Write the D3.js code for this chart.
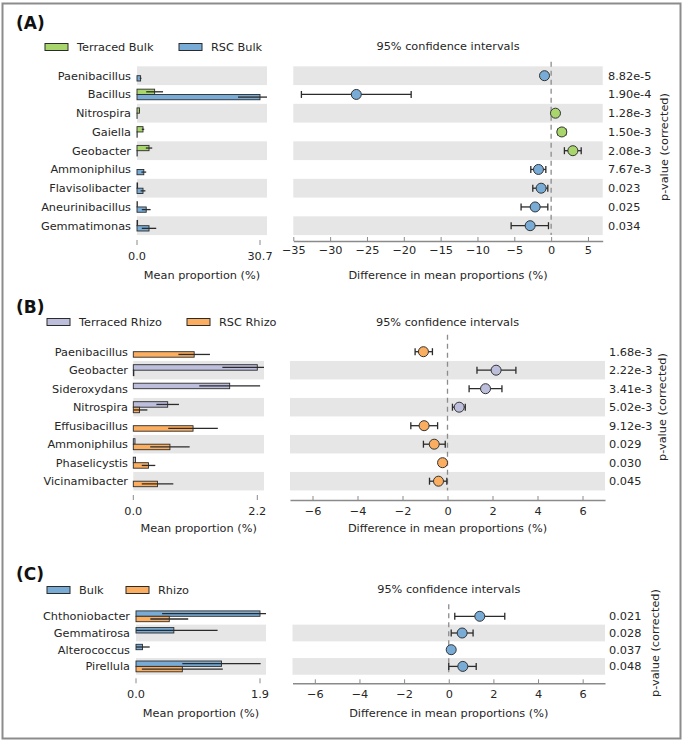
<!DOCTYPE html>
<html>
<head>
<meta charset="utf-8">
<script src="https://cdn.jsdelivr.net/npm/d3@7/dist/d3.min.js"></script>
<style>
body { margin: 0; background: #fff; }
text { font-family: "DejaVu Sans", sans-serif; fill: #262626; }
</style>
</head>
<body>
<div class="chartContainer"></div>
<script>
//Colors
var greenFill = "#a8d66c";
var blueFill = "#78acd6";
var orangeFill = "#fbad60";
var purpleFill = "#bdbedc";
var bandFill = "#e6e6e6";
var darkStroke = "#2b2b2b";
var axisGrey = "#8a8a8a";

// Panel A : Terraced Bulk vs RSC Bulk
var taxaA = ["Paenibacillus", "Bacillus", "Nitrospira", "Gaiella", "Geobacter", "Ammoniphilus", "Flavisolibacter", "Aneurinibacillus", "Gemmatimonas"];
var groupsA = ["Terraced Bulk", "RSC Bulk"];
var meanA1 = [0.0, 4.4, 0.6, 1.5, 3.0, 0.0, 0.15, 0.1, 0.15];
var sdA1 = [0, 2.1, 0.1, 0.3, 0.8, 0, 0, 0, 0];
var meanA2 = [0.9, 30.7, 0.02, 0.05, 0.05, 1.7, 1.5, 2.3, 3.0];
var sdA2 = [0.2, 5.5, 0, 0, 0, 0.6, 0.6, 1.1, 1.8];
var diffA = [-0.9, -26.45, 0.59, 1.45, 2.95, -1.72, -1.36, -2.17, -2.85];
var loA = [-1.3, -33.9, 0.3, 0.9, 1.8, -2.76, -2.49, -4.08, -5.43];
var hiA = [-0.5, -19.0, 0.85, 2.0, 4.08, -0.72, -0.45, -0.45, -0.36];
var pA = ["8.82e-5", "1.90e-4", "1.28e-3", "1.50e-3", "2.08e-3", "7.67e-3", "0.023", "0.025", "0.034"];
var barTicksA = [0, 30.7];
var ciTicksA = [-35, -30, -25, -20, -15, -10, -5, 0, 5];

// Panel B : Terraced Rhizo vs RSC Rhizo
var taxaB = ["Paenibacillus", "Geobacter", "Sideroxydans", "Nitrospira", "Effusibacillus", "Ammoniphilus", "Phaselicystis", "Vicinamibacter"];
var groupsB = ["Terraced Rhizo", "RSC Rhizo"];
var meanB1 = [0.0, 2.2, 1.71, 0.61, 0.0, 0.03, 0.04, 0.0];
var sdB1 = [0, 0.62, 0.54, 0.2, 0, 0, 0, 0];
var meanB2 = [1.08, 0.01, 0.0, 0.11, 1.06, 0.65, 0.27, 0.43];
var sdB2 = [0.28, 0, 0, 0.14, 0.44, 0.35, 0.12, 0.28];
var diffB = [-1.07, 2.16, 1.69, 0.52, -1.04, -0.59, -0.22, -0.4];
var loB = [-1.44, 1.31, 0.96, 0.22, -1.63, -1.07, -0.36, -0.8];
var hiB = [-0.67, 3.04, 2.42, 0.79, -0.44, -0.1, -0.07, -0.03];
var pB = ["1.68e-3", "2.22e-3", "3.41e-3", "5.02e-3", "9.12e-3", "0.029", "0.030", "0.045"];
var barTicksB = [0, 2.2];
var ciTicksB = [-6, -4, -2, 0, 2, 4, 6];

// Panel C : Bulk vs Rhizo
var taxaC = ["Chthoniobacter", "Gemmatirosa", "Alterococcus", "Pirellula"];
var groupsC = ["Bulk", "Rhizo"];
var meanC1 = [1.9, 0.58, 0.1, 1.31];
var sdC1 = [1.5, 0.67, 0.11, 0.6];
var meanC2 = [0.51, 0.0, 0.0, 0.71];
var sdC2 = [0.29, 0, 0, 0.62];
var diffC = [1.39, 0.6, 0.11, 0.63];
var loC = [0.27, 0.11, 0.03, 0.0];
var hiC = [2.51, 1.09, 0.19, 1.23];
var pC = ["0.021", "0.028", "0.037", "0.048"];
var barTicksC = [0, 1.9];
var ciTicksC = [-6, -4, -2, 0, 2, 4, 6];

var fontSize = "11.3px";

var svg = d3.select(".chartContainer").append("svg")
    .attr("width", 685)
    .attr("height", 743);

svg.append("rect").attr("width", 685).attr("height", 743).attr("fill", "#fff");

// outer frame
svg.append("rect")
    .attr("x", 2.5).attr("y", 3.5)
    .attr("width", 678).attr("height", 735)
    .attr("fill", "none")
    .attr("stroke", "#8c8c8c")
    .attr("stroke-width", 2);

var drawPanel = function (p) {
    var g = svg.append("g");
    var n = p.taxa.length;

    // panel label
    g.append("text")
        .attr("x", 16).attr("y", p.labelY).attr("dy", "0.35em")
        .attr("font-size", "17px").attr("font-weight", "bold")
        .style("fill", "#111")
        .text(p.label);

    // legend
    p.groups.forEach((name, k) => {
        g.append("rect")
            .attr("x", p.legendX[k]).attr("y", p.legendY - 3.5)
            .attr("width", 23).attr("height", 7)
            .attr("fill", p.colors[k])
            .attr("stroke", darkStroke).attr("stroke-width", 1);
        g.append("text")
            .attr("x", p.legendX[k] + 32).attr("y", p.legendY).attr("dy", "0.35em")
            .attr("font-size", fontSize)
            .text(name);
    });

    var y = d3.scalePoint().domain(p.taxa).range([p.rowTop, p.rowTop + p.step * (n - 1)]);
    var xBar = d3.scaleLinear().domain([0, p.barTicks[1]]).range([p.barX0, p.barXTick]);
    var xCI = d3.scaleLinear().domain(p.ciDomain).range(p.ciRange);
    var barClip = xBar.invert(p.barXEnd);

    // shaded bands, bottom row always shaded
    var bandRows = p.taxa.filter((d, i) => (n - 1 - i) % 2 === 0);
    g.selectAll(".bandL").data(bandRows).enter().append("rect")
        .attr("x", p.barX0).attr("width", p.barXEnd - p.barX0)
        .attr("y", (d) => y(d) - p.step / 2).attr("height", p.step)
        .attr("fill", bandFill);
    g.selectAll(".bandR").data(bandRows).enter().append("rect")
        .attr("x", p.ciRange[0]).attr("width", p.ciRange[1] - p.ciRange[0])
        .attr("y", (d) => y(d) - p.step / 2).attr("height", p.step)
        .attr("fill", bandFill);

    // row labels
    g.selectAll(".rowLabel").data(p.taxa).enter().append("text")
        .attr("x", p.labelRight).attr("y", (d) => y(d)).attr("dy", "0.35em")
        .attr("text-anchor", "end").attr("font-size", fontSize)
        .text((d) => d);

    // mean proportion bars, group 1 on top, group 2 below
    var rows = p.taxa.map((d, i) => ({
        name: d, m1: p.mean1[i], s1: p.sd1[i], m2: p.mean2[i], s2: p.sd2[i],
        diff: p.diff[i], lo: p.lo[i], hi: p.hi[i], pv: p.pv[i]
    }));
    var bh = p.barH;
    [["m1", "s1", -bh, 0], ["m2", "s2", 0, 1]].forEach((s) => {
        g.selectAll(".bar" + s[0]).data(rows).enter().append("rect")
            .attr("x", xBar(0))
            .attr("y", (d) => y(d.name) + s[2])
            .attr("width", (d) => Math.max(0, xBar(d[s[0]]) - xBar(0)))
            .attr("height", bh)
            .attr("fill", p.colors[s[3]])
            .attr("stroke", darkStroke).attr("stroke-width", 0.9);
        g.selectAll(".err" + s[0]).data(rows.filter((d) => d[s[1]] > 0)).enter().append("line")
            .attr("x1", (d) => xBar(Math.max(0, d[s[0]] - d[s[1]])))
            .attr("x2", (d) => xBar(Math.min(barClip, d[s[0]] + d[s[1]])))
            .attr("y1", (d) => y(d.name) + s[2] + bh / 2)
            .attr("y2", (d) => y(d.name) + s[2] + bh / 2)
            .attr("stroke", darkStroke).attr("stroke-width", 1.3);
    });

    // left axis: ticks only
    p.barTicks.forEach((t) => {
        g.append("line")
            .attr("x1", xBar(t)).attr("x2", xBar(t))
            .attr("y1", p.leftAxisY - 5).attr("y2", p.leftAxisY)
            .attr("stroke", axisGrey).attr("stroke-width", 1);
        g.append("text")
            .attr("x", xBar(t)).attr("y", p.leftAxisY + 11).attr("dy", "0.35em")
            .attr("text-anchor", "middle").attr("font-size", fontSize)
            .text(d3.format(".1f")(t));
    });
    g.append("text")
        .attr("x", (p.barX0 + p.barXEnd) / 2).attr("y", p.xlabelY).attr("dy", "0.35em")
        .attr("text-anchor", "middle").attr("font-size", fontSize)
        .text("Mean proportion (%)");

    // right axis
    var axis = g.append("g")
        .attr("transform", "translate(0," + p.axisY + ")")
        .call(d3.axisBottom(xCI).tickValues(p.ciTicks).tickSizeInner(-4).tickSizeOuter(0).tickPadding(p.tickPad));
    axis.select(".domain").attr("stroke", axisGrey).attr("stroke-width", 1.6);
    axis.selectAll(".tick line").attr("stroke", axisGrey);
    axis.selectAll(".tick text").attr("font-size", fontSize).attr("font-family", "DejaVu Sans").style("fill", "#262626");

    g.append("text")
        .attr("x", (p.ciRange[0] + p.ciRange[1]) / 2).attr("y", p.titleY).attr("dy", "0.35em")
        .attr("text-anchor", "middle").attr("font-size", fontSize)
        .text("95% confidence intervals");
    g.append("text")
        .attr("x", (p.ciRange[0] + p.ciRange[1]) / 2).attr("y", p.xlabelY).attr("dy", "0.35em")
        .attr("text-anchor", "middle").attr("font-size", fontSize)
        .text("Difference in mean proportions (%)");

    // zero line
    g.append("line")
        .attr("x1", xCI(0)).attr("x2", xCI(0))
        .attr("y1", p.rowTop - p.zeroTop).attr("y2", y(p.taxa[n - 1]) + p.step / 2)
        .attr("stroke", "#8c8c8c").attr("stroke-width", 1.3)
        .attr("stroke-dasharray", "5,4");

    // confidence intervals
    g.selectAll(".ci").data(rows).enter().append("line")
        .attr("x1", (d) => xCI(d.lo)).attr("x2", (d) => xCI(d.hi))
        .attr("y1", (d) => y(d.name)).attr("y2", (d) => y(d.name))
        .attr("stroke", darkStroke).attr("stroke-width", 1.3);
    [["lo"], ["hi"]].forEach((k) => {
        g.selectAll(".cap" + k[0]).data(rows).enter().append("line")
            .attr("x1", (d) => xCI(d[k[0]])).attr("x2", (d) => xCI(d[k[0]]))
            .attr("y1", (d) => y(d.name) - 3.5).attr("y2", (d) => y(d.name) + 3.5)
            .attr("stroke", darkStroke).attr("stroke-width", 1.3);
    });
    g.selectAll(".pt").data(rows).enter().append("circle")
        .attr("cx", (d) => xCI(d.diff)).attr("cy", (d) => y(d.name))
        .attr("r", 5)
        .attr("fill", (d) => d.diff > 0 ? p.colors[0] : p.colors[1])
        .attr("stroke", "#333").attr("stroke-width", 1);

    // p-values
    g.selectAll(".pv").data(rows).enter().append("text")
        .attr("x", p.pX).attr("y", (d) => y(d.name)).attr("dy", "0.35em")
        .attr("font-size", fontSize)
        .text((d) => d.pv);
    g.append("text")
        .attr("transform", "translate(" + p.pLabelX + "," + p.pLabelY + ") rotate(-90)")
        .attr("dy", "0.35em").attr("text-anchor", "middle").attr("font-size", fontSize)
        .text("p-value (corrected)");
};

drawPanel({
    label: "(A)", labelY: 23, legendY: 47, legendX: [45, 179],
    groups: groupsA, colors: [greenFill, blueFill], taxa: taxaA,
    mean1: meanA1, sd1: sdA1, mean2: meanA2, sd2: sdA2,
    diff: diffA, lo: loA, hi: hiA, pv: pA,
    barTicks: barTicksA, ciTicks: ciTicksA,
    rowTop: 75.7, step: 18.75, barH: 5.3,
    barX0: 137, barXTick: 260, barXEnd: 267, labelRight: 131,
    ciDomain: [-35, 7], ciRange: [293.3, 602.7],
    axisY: 241, leftAxisY: 245, tickPad: 5, titleY: 46, xlabelY: 275, zeroTop: 14,
    pX: 608, pLabelX: 664, pLabelY: 147
});

drawPanel({
    label: "(B)", labelY: 307, legendY: 322, legendX: [47, 187],
    groups: groupsB, colors: [purpleFill, orangeFill], taxa: taxaB,
    mean1: meanB1, sd1: sdB1, mean2: meanB2, sd2: sdB2,
    diff: diffB, lo: loB, hi: hiB, pv: pB,
    barTicks: barTicksB, ciTicks: ciTicksB,
    rowTop: 351.7, step: 18.5, barH: 5.5,
    barX0: 133.3, barXTick: 257.3, barXEnd: 264, labelRight: 128,
    ciDomain: [-7, 7], ciRange: [290, 605],
    axisY: 500, leftAxisY: 500, tickPad: 7, titleY: 322, xlabelY: 528, zeroTop: 17,
    pX: 609, pLabelX: 662, pLabelY: 407
});

drawPanel({
    label: "(C)", labelY: 574, legendY: 590, legendX: [47, 126],
    groups: groupsC, colors: [blueFill, orangeFill], taxa: taxaC,
    mean1: meanC1, sd1: sdC1, mean2: meanC2, sd2: sdC2,
    diff: diffC, lo: loC, hi: hiC, pv: pC,
    barTicks: barTicksC, ciTicks: ciTicksC,
    rowTop: 616.3, step: 16.7, barH: 5.4,
    barX0: 136, barXTick: 260, barXEnd: 266, labelRight: 130,
    ciDomain: [-7, 7], ciRange: [292.5, 605],
    axisY: 683.3, leftAxisY: 683.3, tickPad: 7, titleY: 589.3, xlabelY: 713.3, zeroTop: 12,
    pX: 609, pLabelX: 655, pLabelY: 643
});
</script>
</body>
</html>
